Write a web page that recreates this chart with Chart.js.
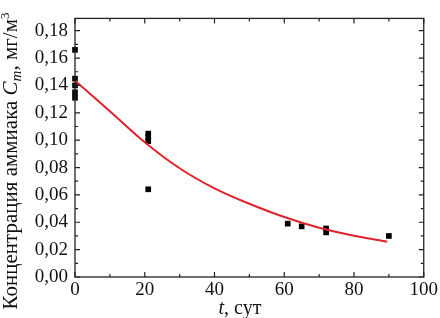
<!DOCTYPE html>
<html>
<head>
<meta charset="utf-8">
<script src="https://cdn.jsdelivr.net/npm/chart.js@4"></script>
<style>
  html, body { margin: 0; padding: 0; background: #fff; }
  #wrap { width: 440px; height: 318px; }
</style>
</head>
<body>
<div id="wrap"><canvas id="chart" width="440" height="318"></canvas></div>
<script>
// measured points: time (days) and ammonia concentration (mg/m3)
const timeDays = [0, 0, 0, 0, 0, 21, 21, 21, 21, 61, 65, 72, 72, 90];
const concValues = [0.166, 0.145, 0.140, 0.135, 0.131, 0.1048, 0.102, 0.0993, 0.0641, 0.039, 0.037, 0.0355, 0.0326, 0.030];

// fitted curve
const fitTime = [0, 10, 20, 30, 40, 50, 60, 70, 80, 89.5];
const fitConc = [0.1435, 0.1212, 0.0985, 0.0795, 0.0648, 0.0535, 0.0438, 0.0360, 0.0302, 0.0258];

const xTicks = [0, 20, 40, 60, 80, 100];
const yTicks = [0, 0.02, 0.04, 0.06, 0.08, 0.10, 0.12, 0.14, 0.16, 0.18];

const SERIF = '"Liberation Serif", "Times New Roman", serif';

// frame, inward ticks and axis titles
const framePlugin = {
    id: 'frame',
    afterDraw(chart) {
        const { ctx, chartArea: a, scales } = chart;
        const xs = scales.x, ys = scales.y;
        ctx.save();
        ctx.strokeStyle = '#222';
        ctx.lineWidth = 1.3;
        ctx.strokeRect(a.left, a.top, a.right - a.left, a.bottom - a.top);

        ctx.lineWidth = 1.2;
        ctx.beginPath();
        for (let v = 0; v <= 100; v += 10) {
            const px = xs.getPixelForValue(v);
            const len = v % 20 === 0 ? 5 : 3;
            ctx.moveTo(px, a.bottom); ctx.lineTo(px, a.bottom - len);
            ctx.moveTo(px, a.top); ctx.lineTo(px, a.top + len);
        }
        for (let i = 0; i <= 18; i++) {
            const v = i * 0.01;
            const py = ys.getPixelForValue(v);
            const len = i % 2 === 0 ? 5 : 3;
            ctx.moveTo(a.left, py); ctx.lineTo(a.left + len, py);
            ctx.moveTo(a.right, py); ctx.lineTo(a.right - len, py);
        }
        ctx.stroke();

        // x title: t, сут
        ctx.fillStyle = '#111';
        ctx.textBaseline = 'alphabetic';
        const xt = 'italic 20px ' + SERIF;
        const xr = '20px ' + SERIF;
        ctx.font = xt;
        const w1 = ctx.measureText('t').width;
        ctx.font = xr;
        const w2 = ctx.measureText(', сут').width;
        let x0 = 240 - (w1 + w2) / 2;
        const yb = 314;
        ctx.font = xt; ctx.fillText('t', x0, yb);
        ctx.font = xr; ctx.fillText(', сут', x0 + w1, yb);

        // y title: Концентрация аммиака C_m, мг/м3
        ctx.translate(17, 161);
        ctx.rotate(-Math.PI / 2);
        const parts = [
            { t: 'Концентрация аммиака ', f: '21px ' + SERIF, dy: 0 },
            { t: 'C', f: 'italic 21px ' + SERIF, dy: 0 },
            { t: 'm', f: 'italic 15px ' + SERIF, dy: 4 },
            { t: ', мг/м', f: '21px ' + SERIF, dy: 0 },
            { t: '3', f: '13px ' + SERIF, dy: -8 }
        ];
        let total = 0;
        parts.forEach(p => { ctx.font = p.f; p.w = ctx.measureText(p.t).width; total += p.w; });
        let cx = -total / 2;
        parts.forEach(p => {
            ctx.font = p.f;
            ctx.fillText(p.t, cx, p.dy);
            cx += p.w;
        });
        ctx.restore();
    }
};

new Chart(document.getElementById('chart'), {
    type: 'scatter',
    data: {
        datasets: [
            {
                label: 'fit',
                type: 'line',
                data: fitTime.map((t, i) => ({ x: t, y: fitConc[i] })),
                borderColor: '#e0232b',
                borderWidth: 2,
                pointRadius: 0,
                cubicInterpolationMode: 'monotone',
                fill: false
            },
            {
                label: 'data',
                data: timeDays.map((t, i) => ({ x: t, y: concValues[i] })),
                pointStyle: 'rect',
                pointRadius: 4,
                pointBorderWidth: 0,
                backgroundColor: '#000',
                borderColor: '#000',
                clip: false
            }
        ]
    },
    options: {
        responsive: false,
        animation: false,
        layout: { padding: { top: 2, right: 10, left: 0, bottom: 0 } },
        plugins: { legend: { display: false }, tooltip: { enabled: false } },
        scales: {
            x: {
                type: 'linear',
                min: 0,
                max: 100,
                afterBuildTicks: s => { s.ticks = xTicks.map(v => ({ value: v })); },
                afterFit: s => { s.height = 41; },
                grid: { display: false, drawTicks: false },
                border: { display: false },
                ticks: {
                    padding: 2,
                    color: '#111',
                    font: { family: SERIF, size: 19 },
                    callback: v => String(v)
                }
            },
            y: {
                type: 'linear',
                min: 0,
                max: 0.189,
                afterBuildTicks: s => { s.ticks = yTicks.map(v => ({ value: v })); },
                afterFit: s => { s.width = 75; },
                grid: { display: false, drawTicks: false },
                border: { display: false },
                ticks: {
                    padding: 7,
                    color: '#111',
                    font: { family: SERIF, size: 19 },
                    callback: v => v.toFixed(2).replace('.', ',')
                }
            }
        }
    },
    plugins: [framePlugin]
});
</script>
</body>
</html>
